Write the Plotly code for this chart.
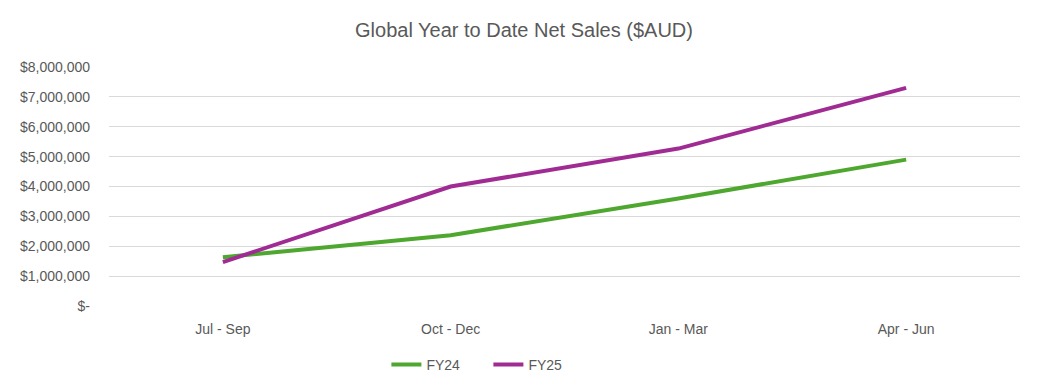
import plotly.graph_objects as go

categories = ["Jul - Sep", "Oct - Dec", "Jan - Mar", "Apr - Jun"]
fy24 = [1630000, 2370000, 3600000, 4900000]
fy25 = [1470000, 4000000, 5270000, 7300000]
tick_vals = [0, 1000000, 2000000, 3000000, 4000000, 5000000, 6000000, 7000000, 8000000]
tick_text = ["$-" if v == 0 else "${:,}".format(v) for v in tick_vals]

FONT = "Liberation Sans, Arial, sans-serif"
TXT = "#595959"

fig = go.Figure()
fig.add_trace(go.Scatter(x=categories, y=fy24, name="FY24", mode="lines",
                         line=dict(color="#4EA72E", width=4)))
fig.add_trace(go.Scatter(x=categories, y=fy25, name="FY25", mode="lines",
                         line=dict(color="#A02B93", width=4)))

# page body has an 8px margin, so the figure is sized/placed to compensate
fig.update_layout(
    width=1032, height=383,
    margin=dict(l=99, r=20, t=59, b=79),
    paper_bgcolor="white", plot_bgcolor="white",
    font=dict(family=FONT, color=TXT, size=14),
    title=dict(text="Global Year to Date Net Sales ($AUD)", x=0.5, xref="container",
               xanchor="center", y=1 - 22 / 383, yref="container", yanchor="middle",
               font=dict(size=20, color=TXT, family=FONT)),
    showlegend=True,
    legend=dict(orientation="h", xref="container", yref="container",
                x=0.4655, xanchor="center", y=1 - 357 / 383, yanchor="middle",
                font=dict(size=14, color=TXT), entrywidth=57, entrywidthmode="pixels"),
    xaxis=dict(type="category", range=[-0.5, 3.5], showgrid=False, showline=False,
               ticks="", ticklabelstandoff=13, tickfont=dict(size=14, color=TXT)),
    yaxis=dict(range=[0, 8000000], tickvals=tick_vals, ticktext=tick_text,
               showgrid=True, gridcolor="#D9D9D9", gridwidth=1, zeroline=False,
               ticks="", ticklabelstandoff=18, tickfont=dict(size=14, color=TXT)),
)
fig.write_html("out.html")
